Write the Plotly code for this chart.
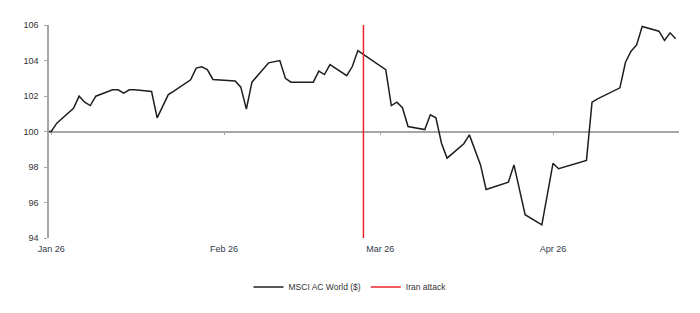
import plotly.graph_objects as go
import pandas as pd

# ---- data ----
dates = [
    "2025-12-31", "2026-01-01", "2026-01-02", "2026-01-05", "2026-01-06", "2026-01-07",
    "2026-01-08", "2026-01-09", "2026-01-12", "2026-01-13", "2026-01-14", "2026-01-15",
    "2026-01-16", "2026-01-19", "2026-01-20", "2026-01-22", "2026-01-23", "2026-01-26",
    "2026-01-27", "2026-01-28", "2026-01-29", "2026-01-30", "2026-02-03", "2026-02-04",
    "2026-02-05", "2026-02-06", "2026-02-09", "2026-02-11", "2026-02-12", "2026-02-13",
    "2026-02-17", "2026-02-18", "2026-02-19", "2026-02-20", "2026-02-23", "2026-02-24",
    "2026-02-25", "2026-03-02", "2026-03-03", "2026-03-04", "2026-03-05", "2026-03-06",
    "2026-03-09", "2026-03-10", "2026-03-11", "2026-03-12", "2026-03-13", "2026-03-16",
    "2026-03-17", "2026-03-18", "2026-03-19", "2026-03-20", "2026-03-24", "2026-03-25",
    "2026-03-27", "2026-03-30", "2026-04-01", "2026-04-02", "2026-04-06", "2026-04-07",
    "2026-04-08", "2026-04-09", "2026-04-13", "2026-04-14", "2026-04-15", "2026-04-16",
    "2026-04-17", "2026-04-20", "2026-04-21", "2026-04-22", "2026-04-23",
]
msci = [
    100.00, 100.00, 100.47, 101.31, 101.99, 101.65,
    101.46, 101.99, 102.35, 102.35, 102.16, 102.35,
    102.35, 102.25, 100.77, 102.08, 102.27, 102.91,
    103.57, 103.64, 103.49, 102.93, 102.84, 102.50,
    101.26, 102.78, 103.87, 104.00, 103.00, 102.78,
    102.78, 103.40, 103.21, 103.77, 103.15, 103.66,
    104.56, 103.48, 101.46, 101.65, 101.34, 100.28,
    100.11, 100.94, 100.77, 99.34, 98.50, 99.31,
    99.81, 99.02, 98.12, 96.73, 97.14, 98.12,
    95.31, 94.74, 98.21, 97.90, 98.27, 98.37,
    101.65, 101.84, 102.46, 103.90, 104.52, 104.88,
    105.92, 105.65, 105.13, 105.56, 105.22,
]
event_date = "2026-02-26"
event_name = "Iran attack"
series_name = "MSCI AC World ($)"

tick_dates = ["2026-01-01", "2026-02-01", "2026-03-01", "2026-04-01"]
tick_text = ["Jan 26", "Feb 26", "Mar 26", "Apr 26"]
y_ticks = [94, 96, 98, 100, 102, 104, 106]
y_range = [94, 106]
x_range = ["2025-12-31 14:24", "2026-04-23 14:24"]
base_level = 100

# ---- figure ----
FONT = "Liberation Sans, Arial, sans-serif"
fig = go.Figure()

fig.add_trace(go.Scatter(
    x=pd.to_datetime(dates), y=msci, mode="lines", name=series_name,
    line=dict(color="#1e1e1e", width=1.5), xaxis="x", yaxis="y",
))
fig.add_trace(go.Scatter(
    x=[event_date, event_date], y=y_range, mode="lines", name=event_name,
    line=dict(color="#e8242c", width=1.5), xaxis="x2", yaxis="y",
))

fig.update_layout(
    width=700, height=313,
    margin=dict(l=49, r=21, t=25, b=75),
    paper_bgcolor="white", plot_bgcolor="white",
    font=dict(family=FONT, size=9, color="#333333"),
    showlegend=True,
    legend=dict(
        orientation="h", xref="container", yref="container",
        x=0.5, xanchor="center", y=1 - 287 / 313, yanchor="middle",
        font=dict(size=8.5, color="#333333"), itemwidth=30,
        traceorder="normal",
    ),
    xaxis=dict(
        type="date", range=x_range, tickvals=tick_dates, ticktext=tick_text,
        showgrid=False, zeroline=False, showline=False, ticks="",
        tickfont=dict(size=9, color="#333a4a"), ticklabelstandoff=4,
    ),
    xaxis2=dict(
        type="date", matches="x", overlaying="x", anchor="free",
        position=(base_level - y_range[0]) / (y_range[1] - y_range[0]),
        tickvals=tick_dates, showticklabels=False,
        showgrid=False, zeroline=False,
        showline=True, linecolor="#a6a6a6", linewidth=1.5,
        ticks="outside", ticklen=3, tickcolor="#a6a6a6",
        layer="below traces",
    ),
    yaxis=dict(
        range=y_range, tickvals=y_ticks, showgrid=False, zeroline=False,
        showline=True, linecolor="#a6a6a6", linewidth=1.5,
        ticks="outside", ticklen=3, tickcolor="#a6a6a6",
        tickfont=dict(size=9, color="#333333"), ticklabelstandoff=4,
    ),
)

fig.write_html("out.html")
